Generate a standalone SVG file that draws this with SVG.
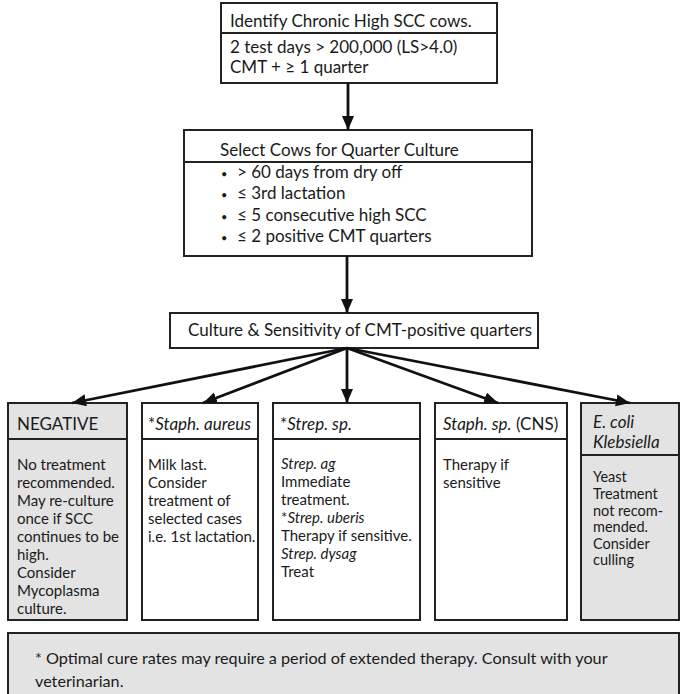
<svg xmlns="http://www.w3.org/2000/svg" width="681" height="694" viewBox="0 0 681 694">
<style>
  .box { fill: #ffffff; stroke: #222; stroke-width: 2; }
  .gray { fill: #e3e3e3; stroke: #222; stroke-width: 2; }
  .div { stroke: #222; stroke-width: 2; }
  text { font-family: Lato, "Liberation Sans", sans-serif; fill: #1a1a1a; }
  .h { font-size: 17px; }
  .f { font-size: 16.2px; }
  .b { font-size: 15px; }
  .s { font-size: 14.5px; }
  .i { font-style: italic; }
  .dot { font-size: 11px; }
  .conn { stroke: #111; stroke-width: 2.8; fill: none; marker-end: url(#ah); }
</style>
<defs>
  <marker id="ah" markerUnits="userSpaceOnUse" markerWidth="16" markerHeight="14" refX="14" refY="6" orient="auto">
    <path d="M0,0 L14,6 L0,12 Z" fill="#111"/>
  </marker>
</defs>
<rect width="681" height="694" fill="#ffffff"/>

<g id="identify">
  <rect class="box" x="221" y="3" width="276" height="80"/>
  <line class="div" x1="221" y1="33" x2="497" y2="33"/>
  <text class="h" x="230" y="27">Identify Chronic High SCC cows.</text>
  <text class="h" x="230" y="53">2 test days &gt; 200,000 (LS&gt;4.0)</text>
  <text class="h" x="230" y="73">CMT + ≥ 1 quarter</text>
</g>

<g id="select">
  <rect class="box" x="184" y="130" width="348" height="126"/>
  <line class="div" x1="184" y1="162" x2="532" y2="162"/>
  <text class="h" x="220" y="156">Select Cows for Quarter Culture</text>
  <text class="h" x="221" y="178"><tspan class="dot">•</tspan><tspan x="237">&gt; 60 days from dry off</tspan></text>
  <text class="h" x="221" y="199"><tspan class="dot">•</tspan><tspan x="237">≤ 3rd lactation</tspan></text>
  <text class="h" x="221" y="221"><tspan class="dot">•</tspan><tspan x="237">≤ 5 consecutive high SCC</tspan></text>
  <text class="h" x="221" y="242"><tspan class="dot">•</tspan><tspan x="237">≤ 2 positive CMT quarters</tspan></text>
</g>

<g id="culture">
  <rect class="box" x="170" y="313" width="368" height="35"/>
  <text class="h" x="188" y="336">Culture &amp; Sensitivity of CMT-positive quarters</text>
</g>

<g id="negative">
  <rect class="gray" x="8" y="403" width="119" height="217"/>
  <line class="div" x1="8" y1="439" x2="127" y2="439"/>
  <text class="h" x="17" y="430">NEGATIVE</text>
  <text class="b" x="17" y="470">No treatment</text>
  <text class="b" x="17" y="488">recommended.</text>
  <text class="b" x="17" y="506">May re-culture</text>
  <text class="b" x="17" y="524">once if SCC</text>
  <text class="b" x="17" y="542">continues to be</text>
  <text class="b" x="17" y="560">high.</text>
  <text class="b" x="17" y="578">Consider</text>
  <text class="b" x="17" y="596">Mycoplasma</text>
  <text class="b" x="17" y="614">culture.</text>
</g>

<g id="staph-aureus">
  <rect class="box" x="142" y="403" width="116" height="217"/>
  <line class="div" x1="142" y1="439" x2="258" y2="439"/>
  <text class="h" x="148" y="430">*<tspan class="i">Staph. aureus</tspan></text>
  <text class="b" x="148" y="470">Milk last.</text>
  <text class="b" x="148" y="488">Consider</text>
  <text class="b" x="148" y="506">treatment of</text>
  <text class="b" x="148" y="524">selected cases</text>
  <text class="b" x="148" y="542">i.e. 1st lactation.</text>
</g>

<g id="strep">
  <rect class="box" x="273" y="403" width="147" height="217"/>
  <line class="div" x1="273" y1="439" x2="420" y2="439"/>
  <text class="h" x="280" y="430">*<tspan class="i">Strep. sp.</tspan></text>
  <text class="b i" x="281" y="469">Strep. ag</text>
  <text class="b" x="281" y="487">Immediate</text>
  <text class="b" x="281" y="505">treatment.</text>
  <text class="b" x="281" y="523">*<tspan class="i">Strep. uberis</tspan></text>
  <text class="b" x="281" y="541">Therapy if sensitive.</text>
  <text class="b i" x="281" y="559">Strep. dysag</text>
  <text class="b" x="281" y="577">Treat</text>
</g>

<g id="staph-cns">
  <rect class="box" x="435" y="403" width="132" height="217"/>
  <line class="div" x1="435" y1="439" x2="567" y2="439"/>
  <text class="h" x="443" y="430"><tspan class="i">Staph. sp.</tspan> (CNS)</text>
  <text class="b" x="443" y="470">Therapy if</text>
  <text class="b" x="443" y="488">sensitive</text>
</g>

<g id="ecoli">
  <rect class="gray" x="581" y="403" width="98" height="217"/>
  <line class="div" x1="581" y1="455" x2="679" y2="455"/>
  <text class="h i" x="593" y="428">E. coli</text>
  <text class="h i" x="593" y="448">Klebsiella</text>
  <text class="s" x="593" y="482">Yeast</text>
  <text class="s" x="593" y="499">Treatment</text>
  <text class="s" x="593" y="515.5">not recom-</text>
  <text class="s" x="593" y="532">mended.</text>
  <text class="s" x="593" y="548.5">Consider</text>
  <text class="s" x="593" y="565">culling</text>
</g>

<g id="footnote">
  <rect class="gray" x="8" y="633" width="671" height="70"/>
  <text class="f" x="35" y="664">* Optimal cure rates may require a period of extended therapy. Consult with your</text>
  <text class="f" x="35" y="687">veterinarian.</text>
</g>

<g id="connectors">
  <line class="conn" x1="348" y1="83" x2="348" y2="130"/>
  <line class="conn" x1="347" y1="256" x2="347" y2="313"/>
  <line class="conn" x1="347" y1="348" x2="72" y2="403"/>
  <line class="conn" x1="347" y1="348" x2="203" y2="403"/>
  <line class="conn" x1="347" y1="348" x2="347" y2="403"/>
  <line class="conn" x1="347" y1="348" x2="498" y2="403"/>
  <line class="conn" x1="347" y1="348" x2="630" y2="403"/>
</g>
</svg>
